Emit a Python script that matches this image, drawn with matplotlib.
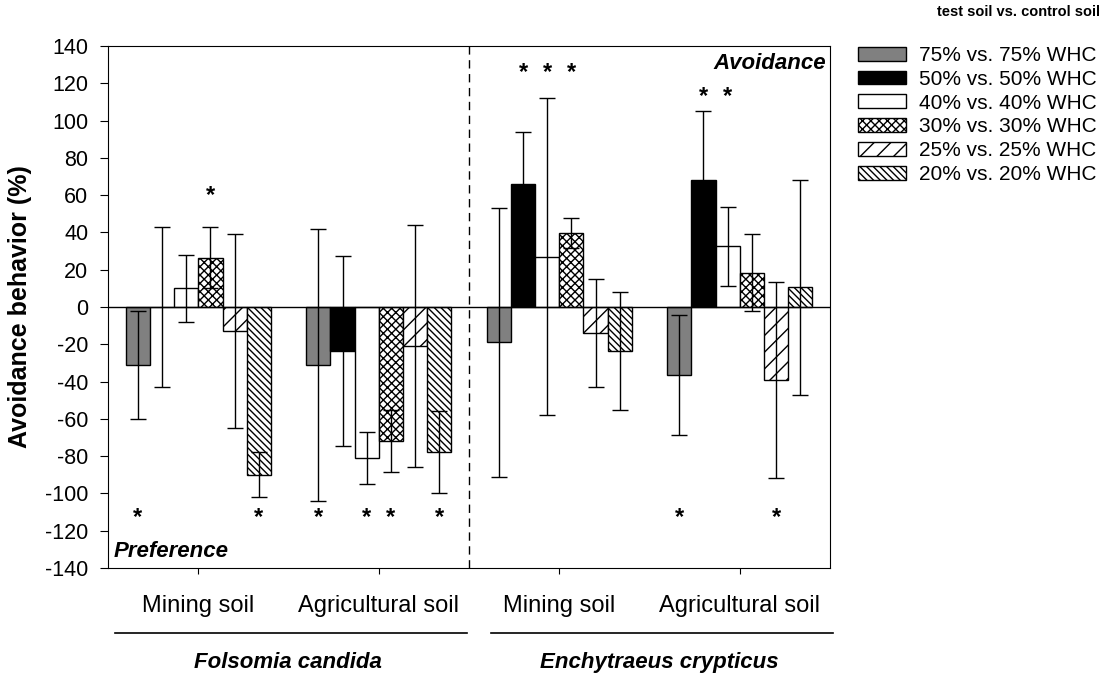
import matplotlib
matplotlib.use("Agg")
import matplotlib.pyplot as plt
from matplotlib.lines import Line2D
from matplotlib.patches import Patch
import numpy as np

plt.rcParams["font.family"] = ["Liberation Sans", "DejaVu Sans"]
plt.rcParams["hatch.linewidth"] = 1.0
plt.rcParams["axes.unicode_minus"] = False   # plain hyphen as in the original

# soils (x axis) and the two species below them
soils = ["Mining soil", "Agricultural soil", "Mining soil", "Agricultural soil"]
species = ["Folsomia candida", "Enchytraeus crypticus"]

# treatments, one bar each per soil
treatments = ["75% vs. 75% WHC", "50% vs. 50% WHC", "40% vs. 40% WHC",
              "30% vs. 30% WHC", "25% vs. 25% WHC", "20% vs. 20% WHC"]

# mean avoidance (%) per treatment, in the order of soils
m75 = [-31, -31, -19, -36.5]
m50 = [0, -23.5, 66, 68]
m40 = [10, -81, 27, 32.5]
m30 = [26.5, -72, 39.5, 18.5]
m25 = [-13, -21, -14, -39]
m20 = [-90, -78, -23.5, 10.5]

# standard deviations
e75 = [29, 73, 72, 32]
e50 = [43, 51, 28, 37]
e40 = [18, 14, 85, 21]
e30 = [16.5, 16.5, 8, 20.5]
e25 = [52, 65, 29, 52.5]
e20 = [12, 22, 31.5, 57.5]

# significance stars: (soil index, treatment index, height)
stars_soil = [0, 0, 0, 1, 1, 1, 1, 2, 2, 2, 3, 3, 3, 3]
stars_bar = [0, 3, 5, 0, 2, 3, 5, 1, 2, 3, 1, 2, 0, 4]
stars_y = [-113, 60, -113, -113, -113, -113, -113,
           126, 126, 126, 113, 113, -113, -113]

yticks = list(range(-140, 141, 20))


def main():
    means = [m75, m50, m40, m30, m25, m20]
    errors = [e75, e50, e40, e30, e25, e20]
    colors = ["#808080", "black", "white", "white", "white", "white"]
    hatches = ["", "", "", "xxxx", "//", "\\" * 5]

    fig = plt.figure(figsize=(11.03, 6.77), dpi=100)
    ax = fig.add_axes([0.098, 0.161, 0.6545, 0.771])

    x = np.arange(len(soils))
    w = 0.134
    for i in range(len(treatments)):
        pos = x + (i - 2.5) * w
        ax.bar(pos, means[i], w, color=colors[i], edgecolor="black",
               linewidth=1, hatch=hatches[i], zorder=2)
        ax.errorbar(pos, means[i], yerr=errors[i], fmt="none", ecolor="black",
                    elinewidth=1, capsize=5.5, capthick=1, zorder=3)

    for s, b, y in zip(stars_soil, stars_bar, stars_y):
        ax.text(x[s] + (b - 2.5) * w, y, "*", ha="center", va="center",
                fontsize=17, fontweight="bold")

    ax.axhline(0, color="black", linewidth=1, zorder=4)
    ax.axvline(1.5, color="black", linewidth=1, dashes=(6, 4), zorder=1)

    ax.set_xlim(-0.5, 3.5)
    ax.set_ylim(-140, 140)
    ax.set_yticks(yticks)
    ax.set_xticks(x)
    ax.set_xticklabels(soils, fontsize=17)
    ax.tick_params(axis="x", direction="out", length=4.5, pad=15)
    ax.tick_params(axis="y", direction="out", length=5.8, pad=8.5,
                   labelsize=15.5)
    ax.set_ylabel("Avoidance behavior (%)", fontsize=18, fontweight="bold",
                  labelpad=9)

    ax.text(0.995, 0.966, "Avoidance", transform=ax.transAxes, ha="right",
            va="center", fontsize=16, fontweight="bold", style="italic")
    ax.text(0.008, 0.031, "Preference", transform=ax.transAxes, ha="left",
            va="center", fontsize=16, fontweight="bold", style="italic")

    # lines and species names under the soils
    fig.add_artist(Line2D([0.104, 0.423], [0.065, 0.065], color="black", lw=1.2))
    fig.add_artist(Line2D([0.445, 0.755], [0.065, 0.065], color="black", lw=1.2))
    fig.text(0.261, 0.022, species[0], ha="center", va="center",
             fontsize=16, fontweight="bold", style="italic")
    fig.text(0.598, 0.022, species[1], ha="center", va="center",
             fontsize=16, fontweight="bold", style="italic")

    handles = [Patch(facecolor=colors[i], edgecolor="black", hatch=hatches[i],
                     label=treatments[i]) for i in range(len(treatments))]
    fig.legend(handles=handles, loc="upper left", bbox_to_anchor=(0.778, 0.932),
               frameon=False, fontsize=15, handlelength=2.3, handleheight=0.65,
               handletextpad=0.6, labelspacing=0.23, borderpad=0,
               borderaxespad=0)
    fig.text(0.923, 0.982, "test soil vs. control soil", ha="center",
             va="center", fontsize=10.5, fontweight="bold")

    fig.savefig("out.png", dpi=100)
    plt.close(fig)


if __name__ == "__main__":
    main()
